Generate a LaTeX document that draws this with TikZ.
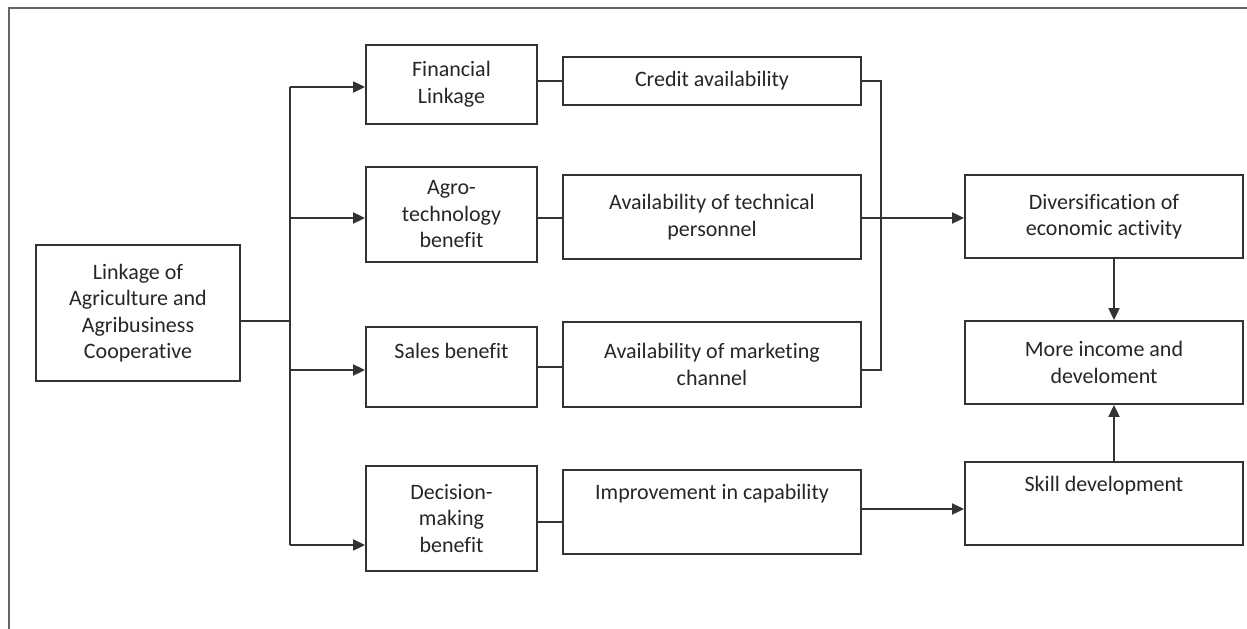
\documentclass[tikz,border=0pt]{standalone}
\usepackage{fontspec}
\setmainfont[Ligatures=NoCommon]{Carlito}
\usetikzlibrary{arrows.meta}
\begin{document}
\begin{tikzpicture}[x=1bp,y=-1bp,
  box/.style={draw=black!80, line width=1.8bp, inner sep=2bp, align=center,
    text=black!85, font=\fontsize{22bp}{26.5bp}\selectfont},
  wire/.style={draw=black!80, line width=1.8bp},
  arr/.style={wire, -{Triangle[length=12bp,width=11bp]}},
  liftup/.style={text depth=#1}]
\useasboundingbox (0,0) rectangle (1247,629);
% frame lines
\draw[line width=1.8bp, black!60] (9,629) -- (9,8) -- (1247,8);

% source box
\node[box, minimum width=204bp, minimum height=136bp] (link) at (138,313)
  {Linkage of\\Agriculture and\\Agribusiness\\Cooperative};

% benefit column
\node[box, minimum width=171bp, minimum height=79bp]  (fin)   at (451.5,84.5)  {Financial\\Linkage};
\node[box, minimum width=171bp, minimum height=95bp]  (agro)  at (451.5,214.5) {Agro-\\technology\\benefit};
\node[box, minimum width=171bp, minimum height=80bp, liftup=32bp] (sales) at (451.5,367) {Sales benefit};
\node[box, minimum width=171bp, minimum height=105bp] (dec)   at (451.5,518.5) {Decision-\\making\\benefit};

% outcome column
\node[box, minimum width=298bp, minimum height=48bp] (credit) at (712,81)    {Credit availability};
\node[box, minimum width=298bp, minimum height=84bp] (tech)   at (712,217)   {Availability of technical\\personnel};
\node[box, minimum width=298bp, minimum height=85bp] (mkt)    at (712,364.5) {Availability of marketing\\channel};
\node[box, minimum width=298bp, minimum height=84bp, liftup=40bp] (imp) at (712,512) {Improvement in capability};

% result column
\node[box, minimum width=278bp, minimum height=83bp] (div)   at (1104,216.5) {Diversification of\\economic activity};
\node[box, minimum width=278bp, minimum height=83bp] (more)  at (1104,362.5) {More income and\\develoment};
\node[box, minimum width=278bp, minimum height=83bp, liftup=40bp] (skill) at (1104,503.5) {Skill development};

% trunk and branch points
\coordinate (jL) at (290,321);
\coordinate (t1) at (290,87);
\coordinate (t2) at (290,218);
\coordinate (t3) at (290,370);
\coordinate (t4) at (290,545);
\coordinate (d1) at (550,522);
\coordinate (v1) at (881,81);
\coordinate (v2) at (881,370);
\coordinate (i1) at (900,509);
\coordinate (cx) at (1114,0);

\draw[wire] (link.east |- jL) -- (jL);
\draw[wire] (t1) -- (t4);
\draw[arr] (t1) -- (t1 -| fin.west);
\draw[arr] (t2) -- (t2 -| agro.west);
\draw[arr] (t3) -- (t3 -| sales.west);
\draw[arr] (t4) -- (t4 -| dec.west);

\draw[wire] (credit.west -| fin.east) -- (credit.west);
\draw[wire] (t2 -| agro.east) -- (t2 -| tech.west);
\draw[wire] (sales.east) -- (sales.east -| mkt.west);
\draw[wire] (d1 -| dec.east) -- (d1 -| imp.west);

\draw[wire] (credit.east) -- (v1) -- (v2) -- (v2 -| mkt.east);
\draw[arr] (t2 -| tech.east) -- (t2 -| div.west);
\draw[arr] (i1 -| imp.east) -- (i1 -| skill.west);
\draw[arr] (cx |- div.south) -- (cx |- more.north);
\draw[arr] (cx |- skill.north) -- (cx |- more.south);
\end{tikzpicture}
\end{document}
